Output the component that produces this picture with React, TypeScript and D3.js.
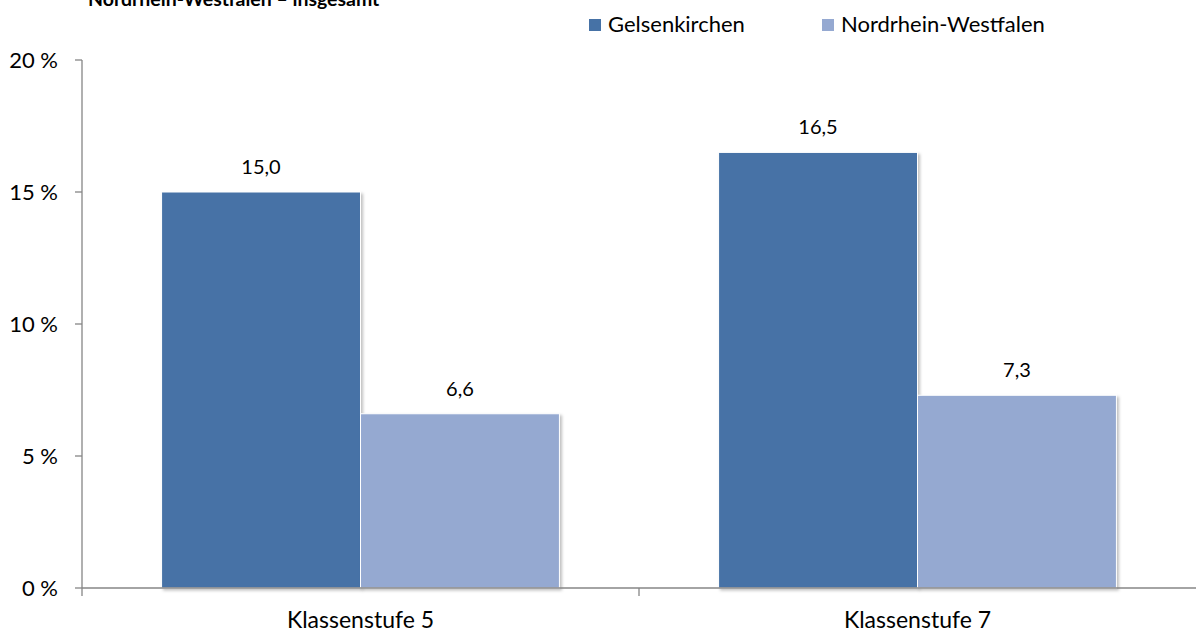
import { useEffect, useRef } from "react"
import * as d3 from "d3"

const categories = ["Klassenstufe 5", "Klassenstufe 7"]
const seriesNames = ["Gelsenkirchen", "Nordrhein-Westfalen"]
const gelsenkirchen = [15.0, 16.5]
const nrw = [6.6, 7.3]
const yTicks = [0, 5, 10, 15, 20]
const colors = ["#4672A6", "#95A9D1"]
const title = "Nordrhein-Westfalen – insgesamt"

export default function App() {
  const svgRef = useRef<SVGSVGElement>(null)

  useEffect(() => {
    if (!svgRef.current) return
    const svg = d3.select(svgRef.current)
    svg.selectAll("*").remove()

    const width = 1197
    const height = 633
    const margin = { top: 60, right: 1, bottom: 45, left: 82 }
    const font = "Lato, 'Open Sans', sans-serif"

    const y = d3
      .scaleLinear()
      .domain([0, 20])
      .range([height - margin.bottom, margin.top])

    const x0 = d3
      .scaleBand()
      .domain(categories)
      .range([margin.left, width - margin.right])

    const x1 = d3
      .scaleBand()
      .domain(seriesNames)
      .range([0, x0.bandwidth()])
      .paddingOuter(0.4)

    svg.attr("width", width).attr("height", height).attr("viewBox", [0, 0, width, height])

    // soft shadow like the office chart
    const defs = svg.append("defs")
    const f = defs
      .append("filter")
      .attr("id", "shadow")
      .attr("x", "-5%")
      .attr("y", "-5%")
      .attr("width", "115%")
      .attr("height", "115%")
    f.append("feDropShadow")
      .attr("dx", 2)
      .attr("dy", 2)
      .attr("stdDeviation", 1.5)
      .attr("flood-color", "#000")
      .attr("flood-opacity", 0.25)

    // title (sits partly above the top edge, as in the original)
    svg
      .append("text")
      .attr("x", 88)
      .attr("y", 6)
      .attr("font-family", font)
      .attr("font-size", 19.5)
      .attr("font-weight", "bold")
      .attr("fill", "#000")
      .text(title)

    // legend
    const legendX = [589, 822]
    seriesNames.forEach((name, i) => {
      svg
        .append("rect")
        .attr("x", legendX[i])
        .attr("y", 19)
        .attr("width", 12)
        .attr("height", 12)
        .attr("fill", colors[i])
      svg
        .append("text")
        .attr("x", legendX[i] + 19)
        .attr("y", 32)
        .attr("font-family", font)
        .attr("font-size", 22)
        .attr("fill", "#000")
        .text(name)
    })

    const values = [gelsenkirchen, nrw]

    // bars
    const groups = svg
      .selectAll("g.cat")
      .data(categories)
      .enter()
      .append("g")
      .attr("class", "cat")
      .attr("transform", (d) => `translate(${x0(d)},0)`)

    seriesNames.forEach((name, si) => {
      groups
        .append("rect")
        .attr("x", x1(name)!)
        .attr("y", (_, ci) => y(values[si][ci]))
        .attr("width", x1.bandwidth())
        .attr("height", (_, ci) => y(0) - y(values[si][ci]))
        .attr("fill", colors[si])
        .attr("stroke", "#fff")
        .attr("stroke-width", 1)
        .attr("filter", "url(#shadow)")

      groups
        .append("text")
        .attr("x", x1(name)! + x1.bandwidth() / 2)
        .attr("y", (_, ci) => y(values[si][ci]) - 18)
        .attr("text-anchor", "middle")
        .attr("font-family", font)
        .attr("font-size", 20)
        .attr("fill", "#000")
        .text((_, ci) => values[si][ci].toFixed(1).replace(".", ","))
    })

    const axisColor = "#868686"

    // y axis
    const yAxis = svg.append("g")
    yAxis
      .append("line")
      .attr("x1", margin.left)
      .attr("x2", margin.left)
      .attr("y1", y(20))
      .attr("y2", y(0) + 8)
      .attr("stroke", axisColor)
      .attr("stroke-width", 1.3)
    yTicks.forEach((t) => {
      yAxis
        .append("line")
        .attr("x1", margin.left - 7)
        .attr("x2", margin.left)
        .attr("y1", y(t))
        .attr("y2", y(t))
        .attr("stroke", axisColor)
        .attr("stroke-width", 1.3)
      yAxis
        .append("text")
        .attr("x", 58)
        .attr("y", y(t))
        .attr("dy", "0.35em")
        .attr("text-anchor", "end")
        .attr("font-family", font)
        .attr("font-size", 22)
        .attr("fill", "#000")
        .text(`${t} %`)
    })

    // x axis
    const xAxis = svg.append("g")
    xAxis
      .append("line")
      .attr("x1", margin.left)
      .attr("x2", width - margin.right)
      .attr("y1", y(0))
      .attr("y2", y(0))
      .attr("stroke", axisColor)
      .attr("stroke-width", 1.3)
    categories.forEach((c, i) => {
      if (i > 0) {
        xAxis
          .append("line")
          .attr("x1", x0(c)!)
          .attr("x2", x0(c)!)
          .attr("y1", y(0))
          .attr("y2", y(0) + 8)
          .attr("stroke", axisColor)
          .attr("stroke-width", 1.3)
      }
      xAxis
        .append("text")
        .attr("x", x0(c)! + x0.bandwidth() / 2)
        .attr("y", 628)
        .attr("text-anchor", "middle")
        .attr("font-family", font)
        .attr("font-size", 23)
        .attr("fill", "#000")
        .text(c)
    })
  }, [])

  return (
    <div style={{ position: "absolute", left: 0, top: 0, background: "#fff" }}>
      <svg ref={svgRef} style={{ display: "block" }} />
    </div>
  )
}
